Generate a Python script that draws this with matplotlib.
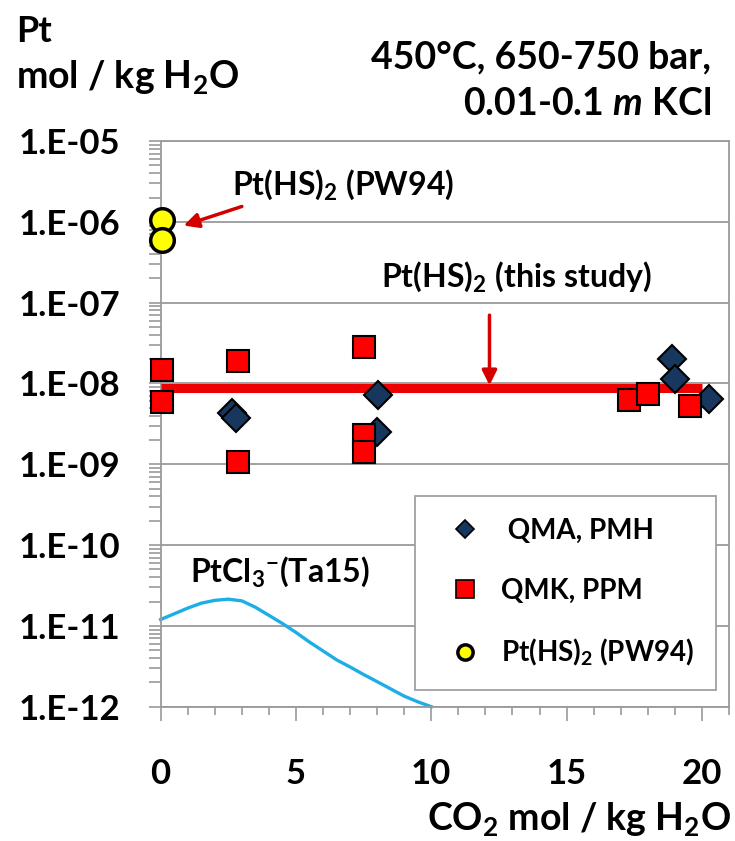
import matplotlib
matplotlib.use("Agg")
import matplotlib.pyplot as plt
from matplotlib.lines import Line2D
from matplotlib.ticker import LogLocator, MultipleLocator, FixedLocator, NullFormatter

plt.rcParams['font.family'] = ['Lato', 'DejaVu Sans']
plt.rcParams['font.weight'] = 'bold'
plt.rcParams['mathtext.fontset'] = 'custom'
plt.rcParams['mathtext.rm'] = 'Lato:bold'
plt.rcParams['mathtext.it'] = 'Lato:italic:bold'
plt.rcParams['mathtext.bf'] = 'Lato:bold'
plt.rcParams['mathtext.default'] = 'rm'

# ---- data ----
pw94_x = [0.05, 0.05]
pw94_y = [1.05e-6, 6.0e-7]

qma_x = [2.65, 2.8, 8.02, 7.98, 18.9, 19.0, 20.25]
qma_y = [4.3e-9, 3.7e-9, 7.2e-9, 2.5e-9, 2.0e-8, 1.12e-8, 6.5e-9]

qmk_x = [0.04, 0.04, 2.86, 2.86, 7.53, 7.5, 7.5, 17.3, 18.0, 19.57]
qmk_y = [1.47e-8, 5.9e-9, 1.9e-8, 1.07e-9, 2.85e-8, 2.3e-9, 1.43e-9, 6.2e-9, 7.5e-9, 5.25e-9]

fit_x = [0, 20]
fit_y = [8.7e-9, 8.7e-9]

ptcl3_x = [0.0, 0.5, 1.0, 1.5, 2.0, 2.5, 3.0, 3.5, 4.0, 4.5, 5.0,
           5.5, 6.0, 6.5, 7.0, 7.5, 8.0, 8.5, 9.0, 9.5, 10.0]
ptcl3_y = [1.20e-11, 1.41e-11, 1.66e-11, 1.91e-11, 2.07e-11, 2.14e-11, 2.04e-11,
           1.70e-11, 1.35e-11, 1.07e-11, 8.3e-12, 6.3e-12, 4.9e-12, 3.8e-12,
           3.1e-12, 2.5e-12, 2.04e-12, 1.66e-12, 1.35e-12, 1.15e-12, 1.0e-12]

y_ticks = [1e-12, 1e-11, 1e-10, 1e-9, 1e-8, 1e-7, 1e-6, 1e-5]
y_labels = ['1.E-12', '1.E-11', '1.E-10', '1.E-09', '1.E-08', '1.E-07', '1.E-06', '1.E-05']
x_ticks = [0, 5, 10, 15, 20]
x_labels = ['0', '5', '10', '15', '20']

# ---- figure ----
fig = plt.figure(figsize=(7.35, 8.41), dpi=100)
ax = fig.add_axes([0.2186, 0.1597, 0.7732, 0.6726])

ax.set_yscale('log')
ax.set_xlim(0, 21)
ax.set_ylim(1e-12, 1e-5)

grid_col = '#9a9a9a'
for s in ax.spines.values():
    s.set_color(grid_col)
    s.set_linewidth(1.3)

ax.yaxis.set_major_locator(FixedLocator(y_ticks))
ax.set_yticklabels(y_labels)
ax.yaxis.set_minor_locator(LogLocator(base=10, subs=range(2, 10), numticks=20))
ax.yaxis.set_minor_formatter(NullFormatter())
ax.xaxis.set_major_locator(FixedLocator(x_ticks))
ax.set_xticklabels(x_labels)
ax.xaxis.set_minor_locator(MultipleLocator(1))

ax.tick_params(axis='y', which='both', direction='out', length=9, width=1.2,
               color=grid_col, labelsize=25, pad=20)
ax.tick_params(axis='x', which='major', direction='out', length=10, width=1.2,
               color=grid_col, labelsize=25, pad=27)
ax.tick_params(axis='x', which='minor', direction='out', length=6, width=1.2,
               color=grid_col)
for lab in ax.get_yticklabels() + ax.get_xticklabels():
    lab.set_fontweight('bold')

ax.grid(True, axis='y', which='major', color=grid_col, linewidth=1.3)
ax.set_axisbelow(True)

ax.plot(ptcl3_x, ptcl3_y, color='#1eaee6', linewidth=2.4, zorder=2, clip_on=False,
        solid_joinstyle='round')
ax.plot(fit_x, fit_y, color='#ee0000', linewidth=6.5, zorder=3, solid_capstyle='butt')
ax.plot(qma_x, qma_y, linestyle='none', marker='D', markersize=14,
        markerfacecolor='#17375e', markeredgecolor='black', markeredgewidth=1.5,
        zorder=4, clip_on=False)
ax.plot(qmk_x, qmk_y, linestyle='none', marker='s', markersize=15.5,
        markerfacecolor='#ff0000', markeredgecolor='black', markeredgewidth=1.5,
        zorder=5, clip_on=False)
ax.plot(pw94_x, pw94_y, linestyle='none', marker='o', markersize=17,
        markerfacecolor='#ffff00', markeredgecolor='black', markeredgewidth=2.5,
        zorder=6, clip_on=False)

# annotations
ax.annotate('', xy=(0.85, 9.0e-7), xytext=(3.0, 1.55e-6),
            arrowprops=dict(arrowstyle='-|>', color='#d40000', lw=2.5,
                            mutation_scale=22, shrinkA=0, shrinkB=0))
ax.text(2.62, 2.15e-6, 'Pt(HS)$_2$ (PW94)', fontsize=23, fontweight='bold',
        ha='left', va='baseline')

ax.annotate('', xy=(12.15, 9.5e-9), xytext=(12.15, 7.0e-8),
            arrowprops=dict(arrowstyle='-|>', color='#d40000', lw=2.5,
                            mutation_scale=22, shrinkA=0, shrinkB=0))
ax.text(8.15, 1.56e-7, 'Pt(HS)$_2$ (this study)', fontsize=23, fontweight='bold',
        ha='left', va='baseline')

ax.text(1.1, 3.48e-11, 'PtCl$_3$$^{-}$(Ta15)', fontsize=23, fontweight='bold',
        ha='left', va='baseline')

handles = [
    Line2D([], [], linestyle='none', marker='D', markersize=9,
           markerfacecolor='#17375e', markeredgecolor='black', markeredgewidth=1.2),
    Line2D([], [], linestyle='none', marker='s', markersize=13,
           markerfacecolor='#ff0000', markeredgecolor='black', markeredgewidth=1.2),
    Line2D([], [], linestyle='none', marker='o', markersize=11,
           markerfacecolor='#ffff00', markeredgecolor='black', markeredgewidth=2.5),
]
labels = [' QMA, PMH', 'QMK, PPM', 'Pt(HS)$_2$ (PW94)']
leg = ax.legend(handles, labels, loc='upper left', bbox_to_anchor=(0.4475, 0.3725),
                frameon=True, fancybox=False, edgecolor='#a0a0a0', framealpha=1,
                prop={'family': 'Lato', 'weight': 'bold', 'size': 20},
                labelspacing=1.2, handletextpad=0.3, borderpad=0.8,
                handlelength=2.0, borderaxespad=0)
leg.get_frame().set_linewidth(1.3)

# axis titles
fig.text(0.022, 0.9504, 'Pt', fontsize=26, fontweight='bold', ha='left', va='baseline')
fig.text(0.022, 0.895, 'mol / kg H$_2$O', fontsize=27, fontweight='bold', ha='left', va='baseline')
fig.text(0.967, 0.9188, '450°C, 650-750 bar,', fontsize=27, fontweight='bold',
         ha='right', va='baseline')
fig.text(0.967, 0.8633, '0.01-0.1 $\\mathit{m}$ KCl', fontsize=27, fontweight='bold',
         ha='right', va='baseline')
fig.text(0.995, 0.0131, 'CO$_2$ mol / kg H$_2$O', fontsize=27, fontweight='bold',
         ha='right', va='baseline')

fig.savefig('out.png', dpi=100)
